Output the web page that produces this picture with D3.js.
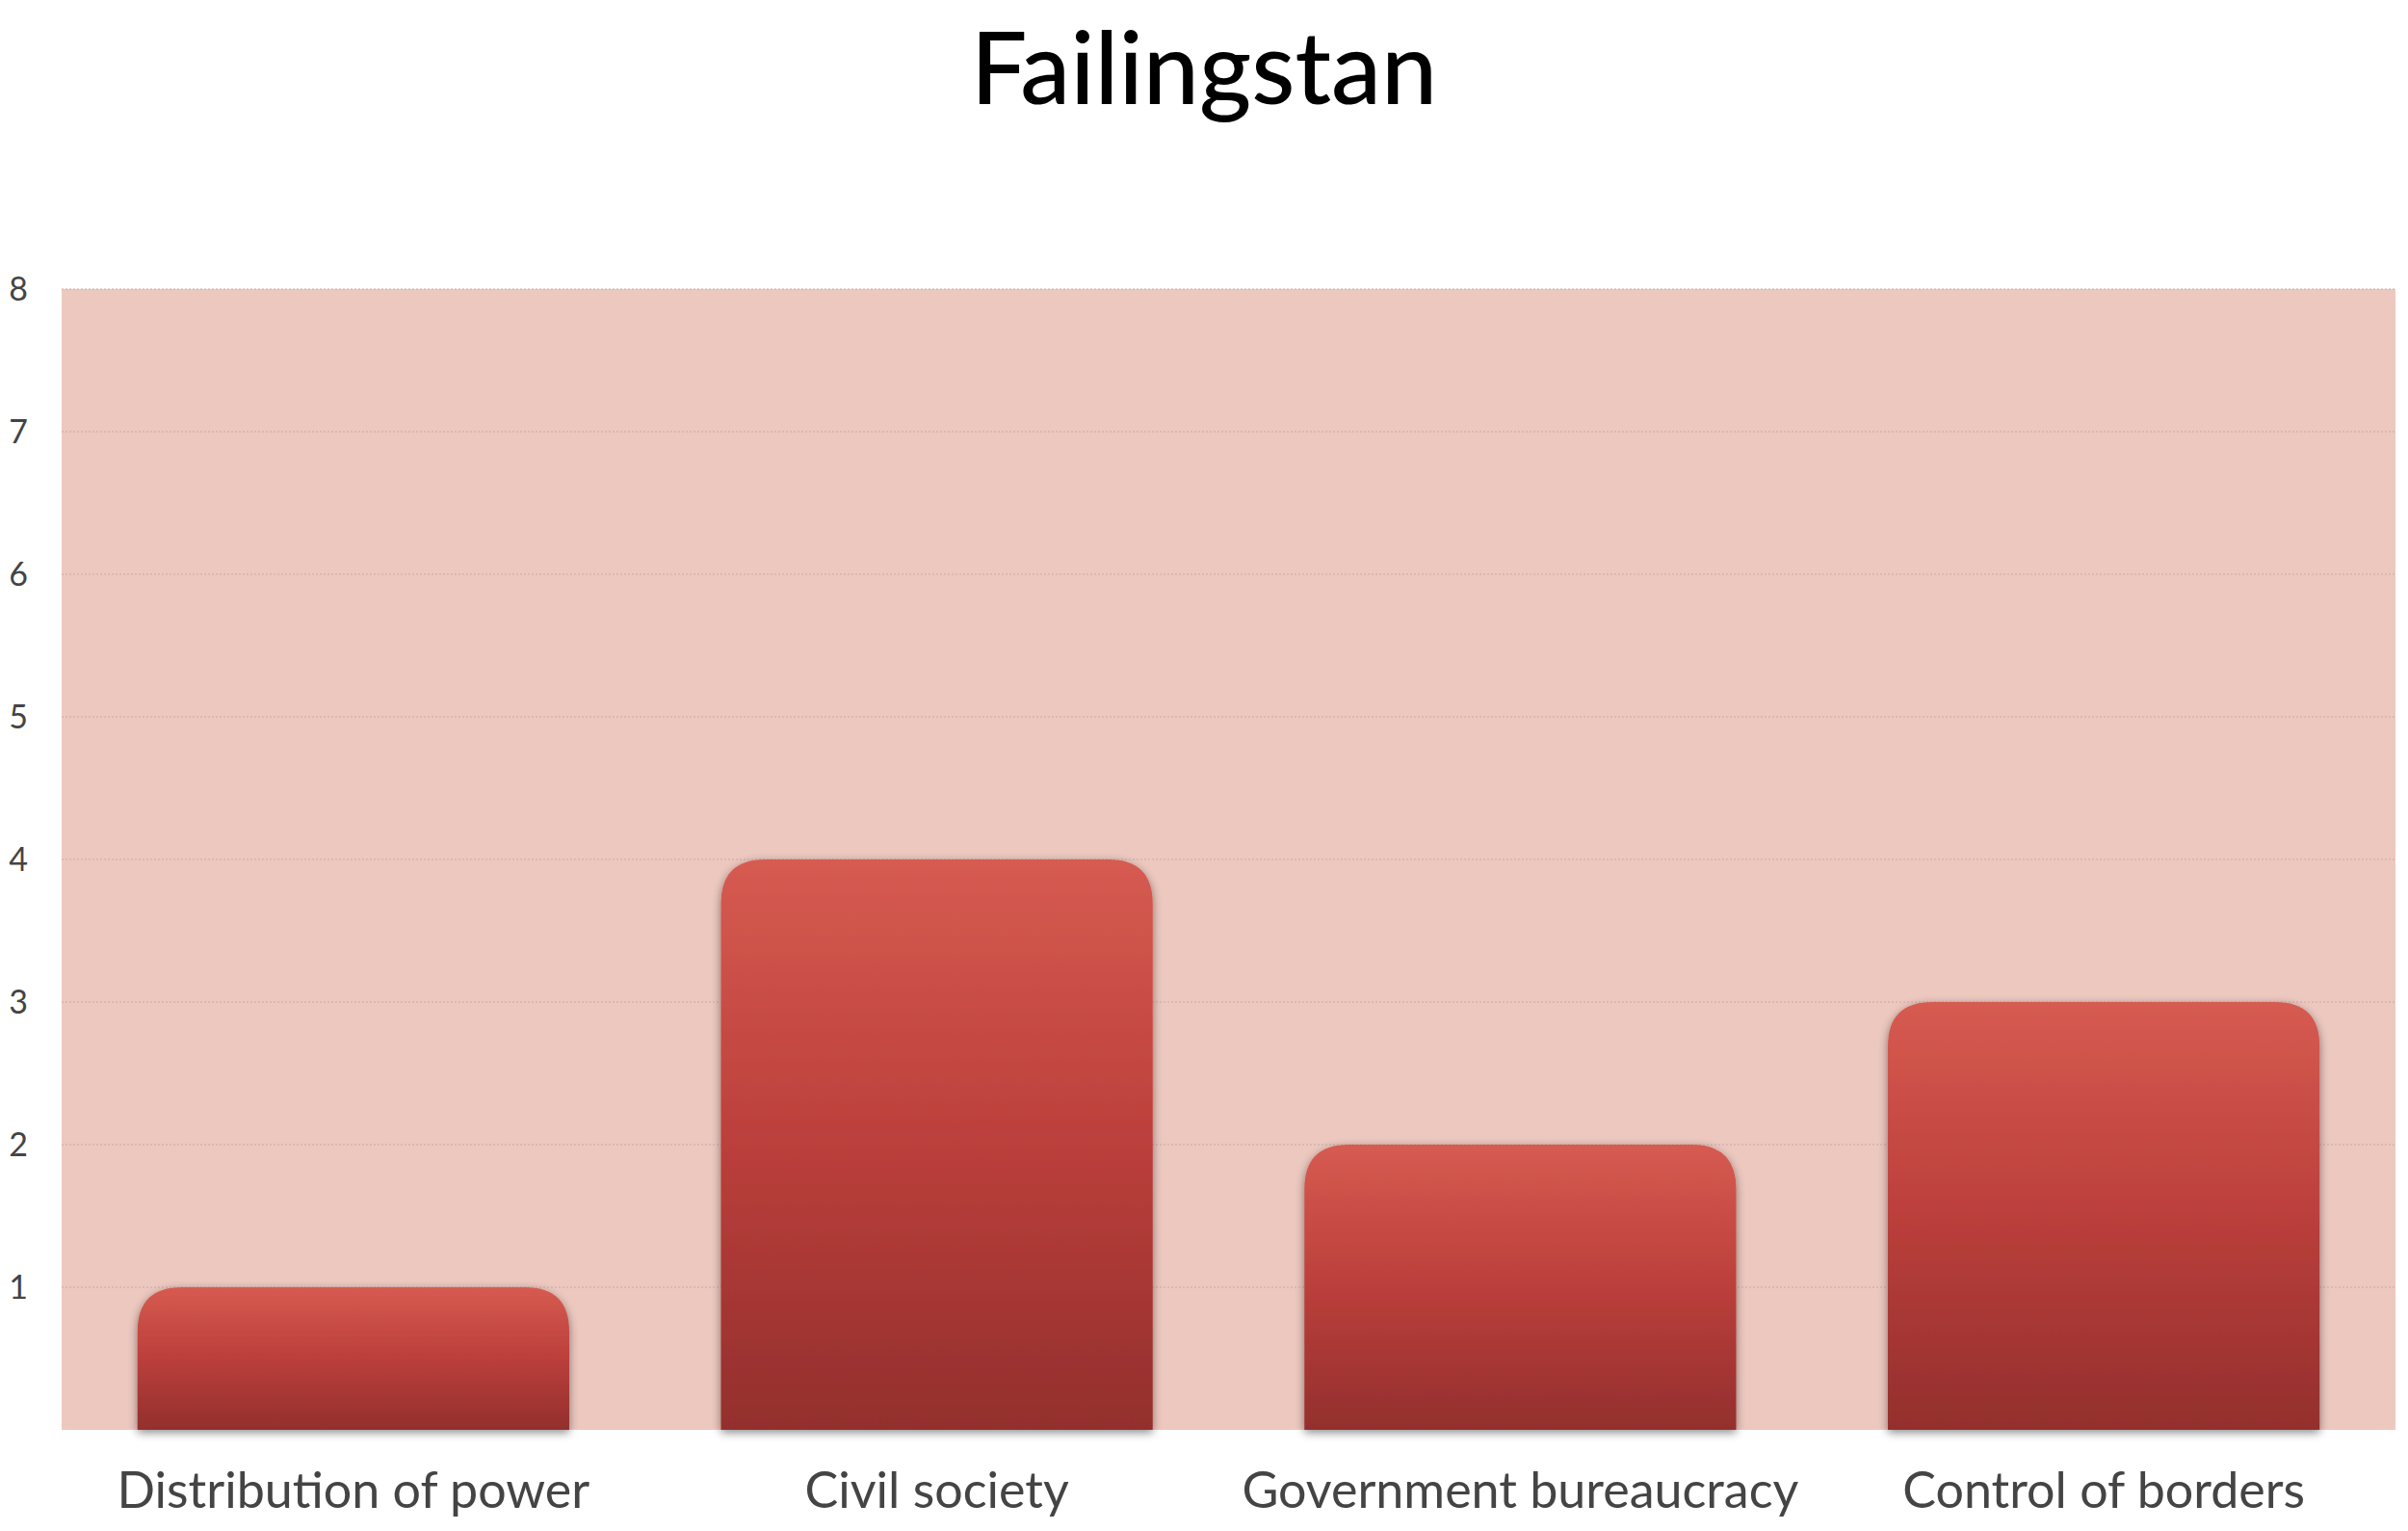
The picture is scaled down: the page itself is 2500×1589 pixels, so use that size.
<!DOCTYPE html>
<html><head><meta charset="utf-8">
<script src="https://cdn.jsdelivr.net/npm/d3@7"></script>
<style>body{margin:0;background:#fff}svg{display:block}</style>
</head><body>
<script>
const categories = ["Distribution of power","Civil society","Government bureaucracy","Control of borders"];
const values = [1,4,2,3];
const yTicks = [1,2,3,4,5,6,7,8];
const title = "Failingstan";

const W=2500,H=1589, m={l:64,r:13,t:300,b:105};
const svg=d3.select("body").append("svg").attr("width",W).attr("height",H);
const defs=svg.append("defs");
const g1=defs.append("linearGradient").attr("id","bg").attr("x1",0).attr("y1",0).attr("x2",0).attr("y2",1);
g1.append("stop").attr("offset","0").attr("stop-color","#d65b51");
g1.append("stop").attr("offset","0.5").attr("stop-color","#bb3f3b");
g1.append("stop").attr("offset","1").attr("stop-color","#932f2d");
const f=defs.append("filter").attr("id","sh").attr("x","-10%").attr("y","-10%").attr("width","120%").attr("height","120%");
f.append("feDropShadow").attr("dx",0).attr("dy",3).attr("stdDeviation",5).attr("flood-color","#000").attr("flood-opacity",0.45);

const x=d3.scaleBand().domain(categories).range([m.l,W-m.r]).paddingInner(0.26).paddingOuter(0.13);
const y=d3.scaleLinear().domain([0,8]).range([H-m.b,m.t]);

svg.append("rect").attr("x",m.l).attr("y",y(8)).attr("width",W-m.r-m.l).attr("height",y(0)-y(8)).attr("fill","#ecc8bf");
svg.append("g").selectAll("line").data(yTicks).join("line")
 .attr("x1",m.l).attr("x2",W-m.r).attr("y1",d=>y(d)).attr("y2",d=>y(d))
 .attr("stroke","#c9a9a2").attr("stroke-width",1).attr("stroke-dasharray","2,2");
svg.append("g").selectAll("text").data(yTicks).join("text")
 .attr("x",19).attr("y",d=>y(d)).attr("dy","0.35em").attr("text-anchor","middle")
 .attr("font-family","Lato").attr("font-size",34).attr("fill","#444").text(d=>d);

const r=46;
svg.append("g").selectAll("path").data(values).join("path")
 .attr("filter","url(#sh)").attr("fill","url(#bg)")
 .attr("d",(d,i)=>{const x0=x(categories[i]),x1=x0+x.bandwidth(),yt=y(d),yb=y(0);
   return `M${x0},${yb}V${yt+r}Q${x0},${yt} ${x0+r},${yt}H${x1-r}Q${x1},${yt} ${x1},${yt+r}V${yb}Z`;});

svg.append("g").selectAll("text").data(categories).join("text")
 .attr("x",d=>x(d)+x.bandwidth()/2).attr("y",1565).attr("text-anchor","middle")
 .attr("font-family","Lato").attr("font-size",52).attr("fill","#444").text(d=>d);

svg.append("text").attr("x",W/2).attr("y",108).attr("text-anchor","middle")
 .attr("font-family","Lato").attr("font-size",104).attr("font-weight",500).attr("fill","#000").text(title);
</script>
</body></html>
